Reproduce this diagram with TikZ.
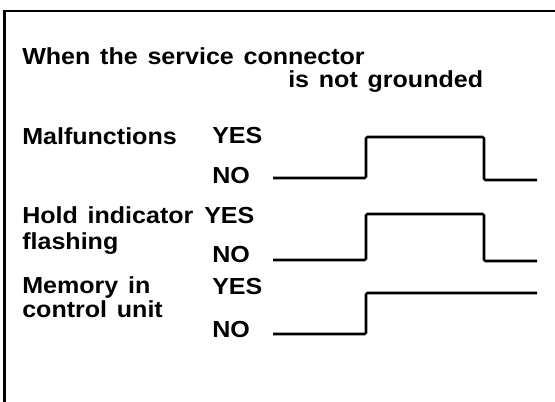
\documentclass[tikz,border=0pt]{standalone}
\usepackage{fontspec}
\setmainfont{Liberation Sans}[FakeStretch=1.08,WordSpace=1.4]
\tikzset{
  lbl/.style={anchor=base west,inner sep=0pt,font=\fontsize{16.5}{19}\selectfont\bfseries},
  wave/.style={line width=1.8pt,rounded corners=1pt}
}
\begin{document}
\begin{tikzpicture}
    \useasboundingbox (0,0) rectangle (13.875,10.05);
    % frame
    \draw[line width=2pt] (0.11,0) -- (0.11,9.775) -- (13.875,9.775);
    % heading
    \node[lbl] (head1) at (0.55,8.425) {When the service connector};
    \node[lbl] (head2) at (7.2,7.85) {is not grounded};
    % signal names
    \node[lbl] (malf) at (0.55,6.425) {Malfunctions};
    \node[lbl] (hold) at (0.55,4.45) {Hold indicator};
    \node[lbl] (flash) at (0.55,3.8) {flashing};
    \node[lbl] (mem) at (0.55,2.7) {Memory in};
    \node[lbl] (ctrl) at (0.55,2.1) {control unit};
    % levels
    \node[lbl] (yes1) at (5.3,6.45) {YES};
    \node[lbl] (no1) at (5.3,5.45) {NO};
    \node[lbl] (yes2) at (5.1,4.45) {YES};
    \node[lbl] (no2) at (5.3,3.475) {NO};
    \node[lbl] (yes3) at (5.3,2.675) {YES};
    \node[lbl] (no3) at (5.3,1.6) {NO};
    % waveforms
    \draw[wave] (6.825,5.6) -- (9.15,5.6) -- (9.15,6.625) -- (12.1,6.625) -- (12.1,5.55) -- (13.425,5.55);
    \draw[wave] (6.825,3.55) -- (9.15,3.55) -- (9.15,4.7) -- (12.1,4.7) -- (12.1,3.525) -- (13.425,3.525);
    \draw[wave] (6.825,1.7) -- (9.15,1.7) -- (9.15,2.725) -- (13.425,2.725);
\end{tikzpicture}
\end{document}
